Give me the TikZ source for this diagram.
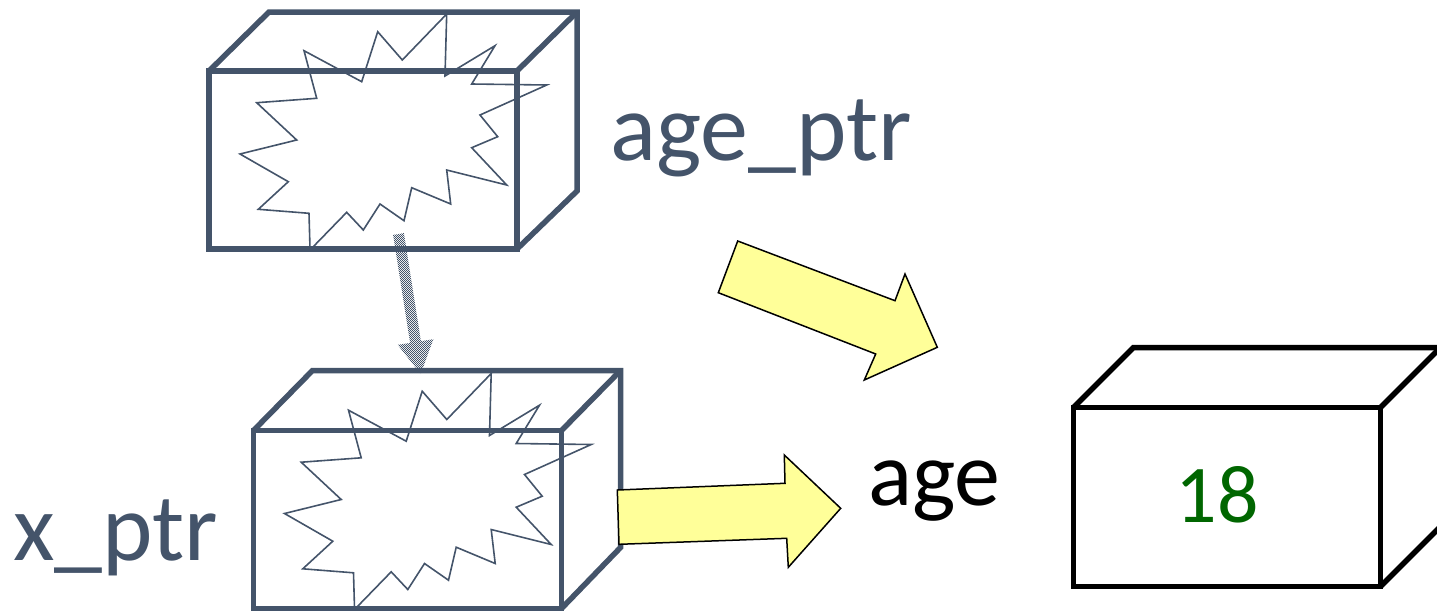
\documentclass[tikz,border=0pt]{standalone}
\usepackage{fontspec}
\setmainfont{Carlito}
\usetikzlibrary{patterns}
\definecolor{slate}{HTML}{44546A}
\definecolor{numgreen}{HTML}{006600}
\definecolor{arrowyellow}{HTML}{FFFF99}
\pgfdeclarepatternformonly{finechecker}{\pgfpointorigin}{\pgfqpoint{2.4pt}{2.4pt}}{\pgfqpoint{2.4pt}{2.4pt}}{%
  \pgfpathrectangle{\pgfpointorigin}{\pgfqpoint{1.2pt}{1.2pt}}%
  \pgfpathrectangle{\pgfqpoint{1.2pt}{1.2pt}}{\pgfqpoint{1.2pt}{1.2pt}}%
  \pgfusepath{fill}}
\tikzset{
  slatebox/.style={draw=slate, line width=5.5pt, minimum width=308pt, minimum height=178pt, inner sep=0pt, outer sep=0pt},
  blackbox/.style={draw=black, line width=5.5pt, minimum width=307pt, minimum height=179pt, inner sep=0pt, outer sep=0pt},
  slateedge/.style={draw=slate, line width=5.5pt},
  blackedge/.style={draw=black, line width=5.5pt},
  burstline/.style={draw=slate, line width=1.6pt, line join=miter},
  blockarrow/.style={draw=black, fill=arrowyellow, line width=1.5pt, line join=miter},
  ptrarrow/.style={pattern=finechecker, pattern color=slate},
  bigtext/.style={font=\fontsize{96}{110}\selectfont, inner sep=0pt, anchor=base west},
  burst/.pic={
    \draw[burstline] (310,248.3) -- (309,213.3) -- (258.3,209.3) -- (288.3,181.7) -- (240,154)
      -- (296.7,140) -- (256.7,102.7) -- (316.7,98.3) -- (304,50.7) -- (361.7,81.7)
      -- (377.7,31.7) -- (402.3,60) -- (446.7,14) -- (445,76) -- (495,45.7) -- (471.7,84)
      -- (546.7,85) -- (480,115) -- (497.7,136.7) -- (471.7,147.7) -- (506.7,185)
      -- (446.7,170) -- (450.7,204) -- (411.7,187.7) -- (404,220.7) -- (380,204)
      -- (363.3,230) -- (346.7,212.3) -- (311.7,248.3);
  }
}
\begin{document}
\begin{tikzpicture}[x=1pt,y=-1pt]
\useasboundingbox (0,0) rectangle (1437,611);
\clip (0,0) rectangle (1437,611);

% top box (age_ptr)
\node[slatebox] (agebox) at (363,160) {};
\draw[slateedge] (agebox.north west) -- ++(60,-59) -- ++(308,0) -- ++(0,179) -- (agebox.south east);
\draw[slateedge] (agebox.north east) -- ++(60,-59);
\pic at (0,0) {burst};
\node[bigtext, text=slate] (agelabel) at (610,160) {age\_ptr};

% bottom box (x_ptr)
\node[slatebox] (xbox) at (407.5,519.5) {};
\draw[slateedge] (xbox.north west) -- ++(59,-60) -- ++(308,0) -- ++(0,177) -- (xbox.south east);
\draw[slateedge] (xbox.north east) -- ++(59,-60);
\pic at (44.5,359.5) {burst};
\node[bigtext, text=slate] (xlabel) at (13,560) {x\_ptr};

% dotted pointer arrow from age_ptr to x_ptr
\fill[ptrarrow] (393.1,234.9) -- (403.9,233.1) -- (420.9,341.1) -- (433.3,339.2)
  -- (420.7,374) -- (397.7,344.8) -- (410.1,342.9) -- cycle;

% right box (age)
\node[blackbox] (valbox) at (1227,497) {};
\draw[blackedge] (valbox.north west) -- ++(60,-60) -- ++(307,0) -- ++(0,179) -- (valbox.south east);
\draw[blackedge] (valbox.north east) -- ++(60,-60);
\node[font=\fontsize{82}{96}\selectfont, text=numgreen, inner sep=0pt, anchor=base] (val) at (1217,522) {18};
\node[bigtext, font=\fontsize{92}{104}\selectfont, text=black] (agename) at (868,505) {age};

% yellow block arrows
\draw[blockarrow] (718.3,292.7) -- (737.7,241) -- (895,300.7) -- (905,274) -- (937.3,347.3)
  -- (864.3,380) -- (875.7,354) -- cycle;
\draw[blockarrow] (617.3,490) -- (785,483.3) -- (784.3,455) -- (840.7,508.3) -- (788.3,567.3)
  -- (786.7,538.3) -- (619,544.3) -- cycle;
\end{tikzpicture}
\end{document}
